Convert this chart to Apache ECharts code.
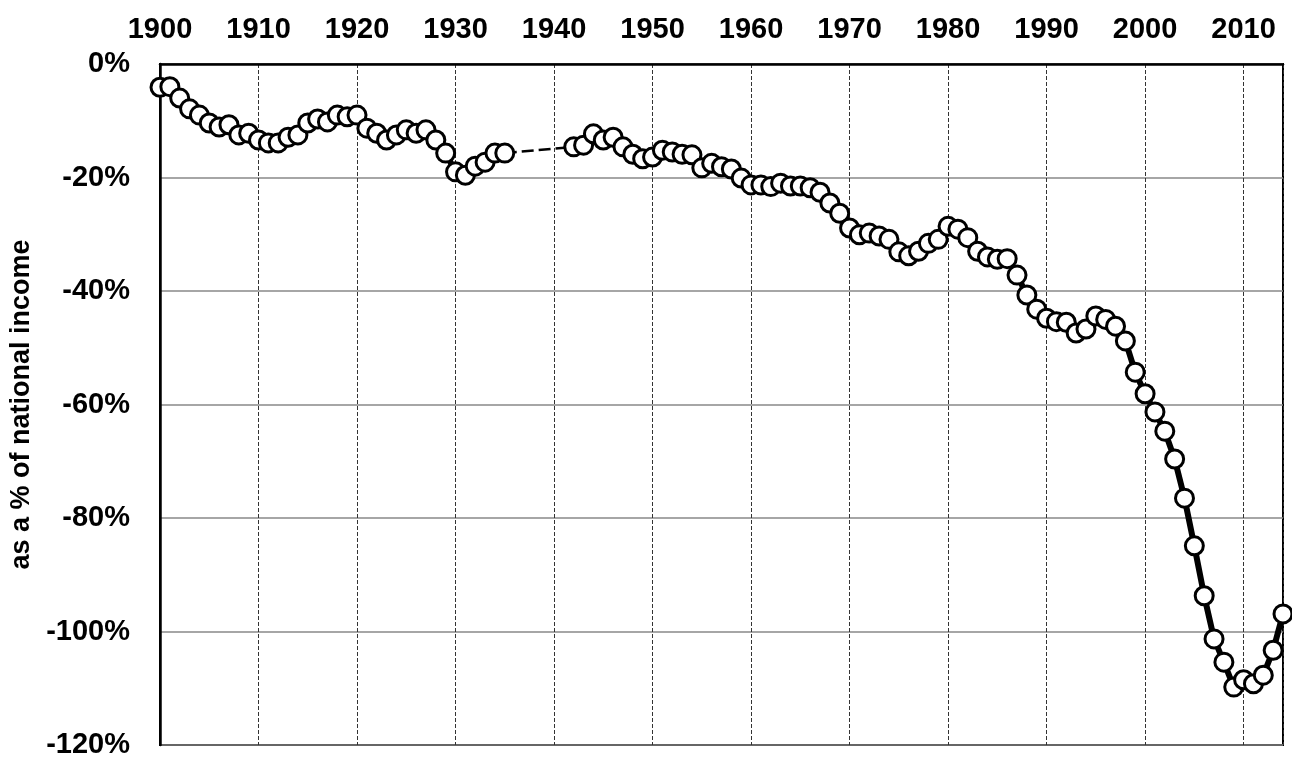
<!DOCTYPE html>
<html>
<head>
<meta charset="utf-8">
<script src="https://cdn.jsdelivr.net/npm/echarts@6/dist/echarts.min.js"></script>
<style>
  html, body { margin: 0; padding: 0; background: #fff; }
  #chart { width: 1292px; height: 763px; }
</style>
</head>
<body>
<div id="chart"></div>
<script>
// years 1900-2014, no data 1936-1941
var years = [
  1900,1901,1902,1903,1904,1905,1906,1907,1908,1909,
  1910,1911,1912,1913,1914,1915,1916,1917,1918,1919,
  1920,1921,1922,1923,1924,1925,1926,1927,1928,1929,
  1930,1931,1932,1933,1934,1935,1936,1937,1938,1939,
  1940,1941,1942,1943,1944,1945,1946,1947,1948,1949,
  1950,1951,1952,1953,1954,1955,1956,1957,1958,1959,
  1960,1961,1962,1963,1964,1965,1966,1967,1968,1969,
  1970,1971,1972,1973,1974,1975,1976,1977,1978,1979,
  1980,1981,1982,1983,1984,1985,1986,1987,1988,1989,
  1990,1991,1992,1993,1994,1995,1996,1997,1998,1999,
  2000,2001,2002,2003,2004,2005,2006,2007,2008,2009,
  2010,2011,2012,2013,2014
];
var values = [
  -4.1,-4.0,-6.0,-7.9,-9.0,-10.4,-11.1,-10.7,-12.5,-12.2,
  -13.4,-13.9,-13.9,-12.9,-12.5,-10.4,-9.7,-10.2,-9.0,-9.3,
  -9.0,-11.3,-12.2,-13.4,-12.5,-11.6,-12.2,-11.6,-13.4,-15.7,
  -19.0,-19.6,-18.0,-17.3,-15.7,-15.7,null,null,null,null,
  null,null,-14.6,-14.3,-12.3,-13.4,-12.9,-14.6,-15.9,-16.7,
  -16.4,-15.2,-15.5,-15.9,-16.0,-18.3,-17.5,-18.1,-18.5,-20.1,
  -21.3,-21.3,-21.6,-21.0,-21.5,-21.5,-21.8,-22.6,-24.5,-26.3,
  -28.9,-30.1,-29.8,-30.3,-30.9,-33.1,-33.8,-33.0,-31.6,-30.9,
  -28.6,-29.1,-30.6,-33.0,-34.0,-34.4,-34.3,-37.2,-40.7,-43.2,
  -44.8,-45.4,-45.5,-47.4,-46.7,-44.4,-45.0,-46.2,-48.8,-54.3,
  -58.1,-61.3,-64.7,-69.6,-76.5,-84.9,-93.7,-101.3,-105.4,-109.8,
  -108.5,-109.2,-107.7,-103.3,-96.9
];
var yTicks = [0, -20, -40, -60, -80, -100, -120];

var mainData = years.map(function (y, i) { return [y, values[i]]; });

// dashed link across the missing years
var gapData = [];
for (var i = 1; i < values.length; i++) {
  if (values[i] == null && values[i - 1] != null) gapData.push([years[i - 1], values[i - 1]]);
  if (values[i] != null && values[i - 1] == null) gapData.push([years[i], values[i]]);
}

var chart = echarts.init(document.getElementById('chart'));
var font = '"Liberation Sans", Arial, sans-serif';

chart.setOption({
  animation: false,
  backgroundColor: '#fff',
  grid: {
    left: 160, top: 64, right: 9, bottom: 18,
    show: true,
    borderColor: '#000',
    borderWidth: 2
  },
  xAxis: {
    type: 'value',
    position: 'top',
    min: 1900,
    max: 2014,
    interval: 10,
    axisLine: { show: true, lineStyle: { color: '#000', width: 2.5 } },
    axisTick: { show: false },
    axisLabel: {
      showMaxLabel: false,
      margin: 20,
      color: '#000',
      fontFamily: font,
      fontWeight: 'bold',
      fontSize: 29,
      formatter: function (v) { return String(v); }
    },
    splitLine: {
      show: true,
      lineStyle: { color: '#333', width: 1, type: [4, 2] }
    }
  },
  yAxis: {
    type: 'value',
    min: -120,
    max: 0,
    interval: 20,
    name: 'as a % of national income',
    nameLocation: 'middle',
    nameGap: 122,
    nameTextStyle: {
      color: '#000',
      fontFamily: font,
      fontWeight: 'bold',
      fontSize: 27
    },
    axisLine: { show: true, lineStyle: { color: '#000', width: 2.5 } },
    axisTick: { show: false },
    axisLabel: {
      margin: 30,
      color: '#000',
      fontFamily: font,
      fontWeight: 'bold',
      fontSize: 29,
      formatter: function (v) { return yTicks.indexOf(v) >= 0 ? v + '%' : ''; }
    },
    splitLine: {
      show: true,
      lineStyle: { color: '#888', width: 1.5 }
    }
  },
  series: [
    {
      name: 'gap',
      type: 'line',
      data: gapData,
      symbol: 'none',
      silent: true,
      z: 1,
      lineStyle: { color: '#000', width: 2.5, type: [12, 5] }
    },
    {
      name: 'main',
      type: 'line',
      data: mainData,
      connectNulls: false,
      symbol: 'circle',
      symbolSize: 18,
      showAllSymbol: true,
      z: 3,
      lineStyle: { color: '#000', width: 6 },
      itemStyle: { color: '#fff', borderColor: '#000', borderWidth: 3 }
    }
  ]
});
</script>
</body>
</html>
